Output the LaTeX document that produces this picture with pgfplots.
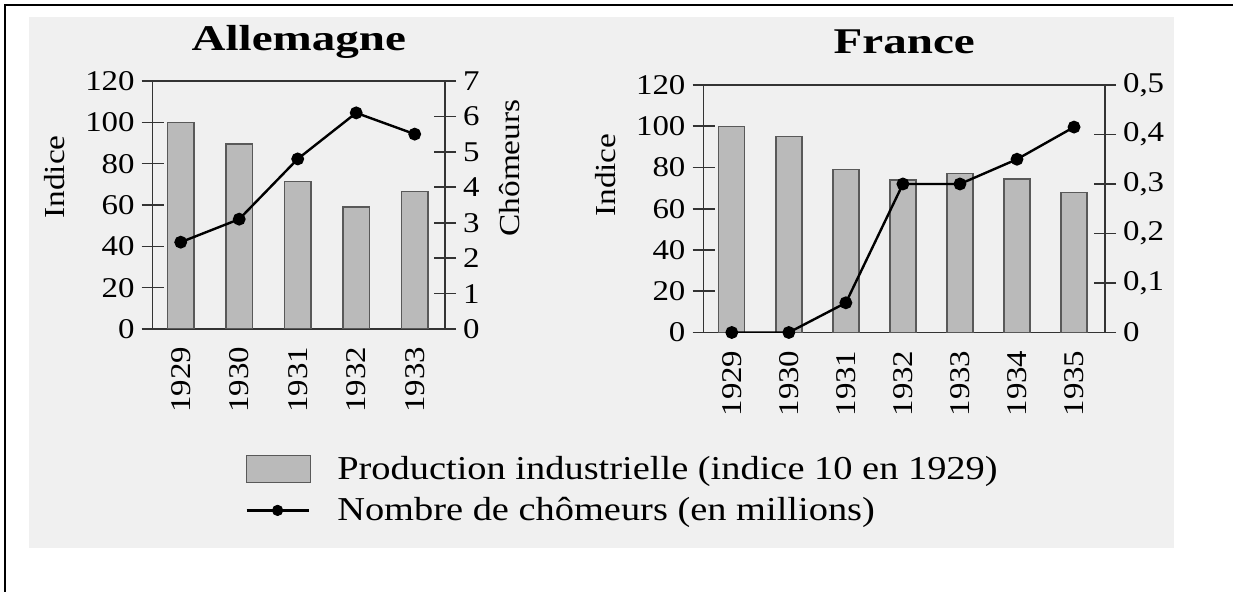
\documentclass[border=0pt]{standalone}
\usepackage{fontspec}
\setmainfont{Liberation Serif}[FakeStretch=1.15]
\newfontfamily\titlefont{Liberation Serif}[FakeStretch=1.3]
\usepackage{pgfplots}
\pgfplotsset{compat=1.18}

\definecolor{bg}{gray}{0.94}
\definecolor{barfill}{gray}{0.73}
\definecolor{barline}{gray}{0.35}
\definecolor{axline}{gray}{0.2}

\newcommand\ticksize{\fontsize{14.3}{16}\selectfont}
\newcommand\labsize{\fontsize{14.5}{16}\selectfont}
\newcommand\legsize{\fontsize{16.7}{19}\selectfont}
\newcommand\titsize{\titlefont\bfseries\fontsize{18.1}{20}\selectfont}

\pgfplotsset{
  basestyle/.style={
    scale only axis,
    anchor=south west,
    axis line style={axline, line width=0.8pt},
    tick style={axline, line width=0.8pt},
    tick align=center,
    major tick length=11pt,
    x tick style={draw=none},
    xticklabel style={rotate=90, anchor=east, font=\ticksize},
    yticklabel style={font=\ticksize},
    ylabel style={font=\labsize},
  },
  barstyle/.style={ybar, bar width=#1, fill=barfill, draw=barline, line width=0.7pt,
    legend image code/.code={\draw[fill=barfill, draw=barline, line width=0.7pt] (0pt,-6.75pt) rectangle (32pt,6.75pt);}},
  linestyle/.style={black, line width=1.2pt, mark=*, mark size=2.6pt, mark options={solid, fill=black}},
}

\begin{document}
\begin{tikzpicture}
\path[use as bounding box] (0,0) rectangle (616.5pt,296pt);
\fill[bg] (14.5pt,22pt) rectangle (587pt,287.5pt);
\draw[line width=1pt] (2.5pt,0pt) -- (2.5pt,293.3pt) -- (616.5pt,293.3pt);

% ---------------- Allemagne ----------------
\begin{axis}[basestyle,
  at={(76.35pt,131.5pt)}, width=146.15pt, height=124pt,
  xmin=-0.479, xmax=4.518, ymin=0, ymax=120,
  xtick={0,1,2,3,4}, xticklabels={1929,1930,1931,1932,1933},
  ytick={0,20,40,60,80,100,120}, yticklabels={0,20,40,60,80,100,120},
  ytick pos=left,
  title={Allemagne},
  title style={at={(0.5,1)}, anchor=base, yshift=9pt, font=\titsize},
  ylabel={Indice},
  ylabel style={at={(axis description cs:-0.334,0.613)}, rotate=0, anchor=center},
  legend style={at={(axis description cs:0.3158,-0.646)}, anchor=west, draw=none, fill=none,
    font=\legsize, inner sep=0pt, row sep=7pt, column sep=13pt,
    nodes={inner sep=0pt}},
  legend cell align=left,
]
\addplot[barstyle=13.25pt] coordinates {(0,100) (1,89.5) (2,71.5) (3,59) (4,66.5)};
\addlegendentry{Production industrielle (indice 10 en 1929)}
\addlegendimage{legend image code/.code={\draw[black, line width=1.2pt] (0pt,0pt) -- (31pt,0pt); \fill[black] (15.5pt,0pt) circle (2.6pt);}}
\addlegendentry{Nombre de chômeurs (en millions)}
\end{axis}

\begin{axis}[basestyle,
  at={(76.35pt,131.5pt)}, width=146.15pt, height=124pt,
  xmin=-0.479, xmax=4.518, ymin=0, ymax=7,
  axis x line=none, axis y line*=right,
  ytick={0,1,2,3,4,5,6,7}, yticklabels={0,1,2,3,4,5,6,7},
  ylabel={Chômeurs},
  ylabel style={at={(axis description cs:1.222,0.649)}, rotate=0, anchor=center},
]
\addplot[linestyle] coordinates {(0,2.45) (1,3.1) (2,4.8) (3,6.1) (4,5.5)};
\end{axis}

% ---------------- France ----------------
\begin{axis}[basestyle,
  at={(351.75pt,129.75pt)}, width=200.75pt, height=123.75pt,
  xmin=-0.496, xmax=6.543, ymin=0, ymax=120,
  xtick={0,1,2,3,4,5,6}, xticklabels={1929,1930,1931,1932,1933,1934,1935},
  ytick={0,20,40,60,80,100,120}, yticklabels={0,20,40,60,80,100,120},
  ytick pos=left,
  title={France},
  title style={at={(0.5,1)}, anchor=base, yshift=9.5pt, font=\titsize},
  ylabel={Indice},
  ylabel style={at={(axis description cs:-0.245,0.636)}, rotate=0, anchor=center},
]
\addplot[barstyle=13pt] coordinates {(0,100) (1,95) (2,79) (3,74) (4,77) (5,74.5) (6,68)};
\end{axis}

\begin{axis}[basestyle,
  at={(351.75pt,129.75pt)}, width=200.75pt, height=123.75pt,
  xmin=-0.496, xmax=6.543, ymin=0, ymax=0.5,
  axis x line=none, axis y line*=right,
  ytick={0,0.1,0.2,0.3,0.4,0.5}, yticklabels={0,{0,1},{0,2},{0,3},{0,4},{0,5}},
]
\addplot[linestyle] coordinates {(0,0) (1,0) (2,0.06) (3,0.3) (4,0.3) (5,0.35) (6,0.415)};
\end{axis}
\end{tikzpicture}
\end{document}
